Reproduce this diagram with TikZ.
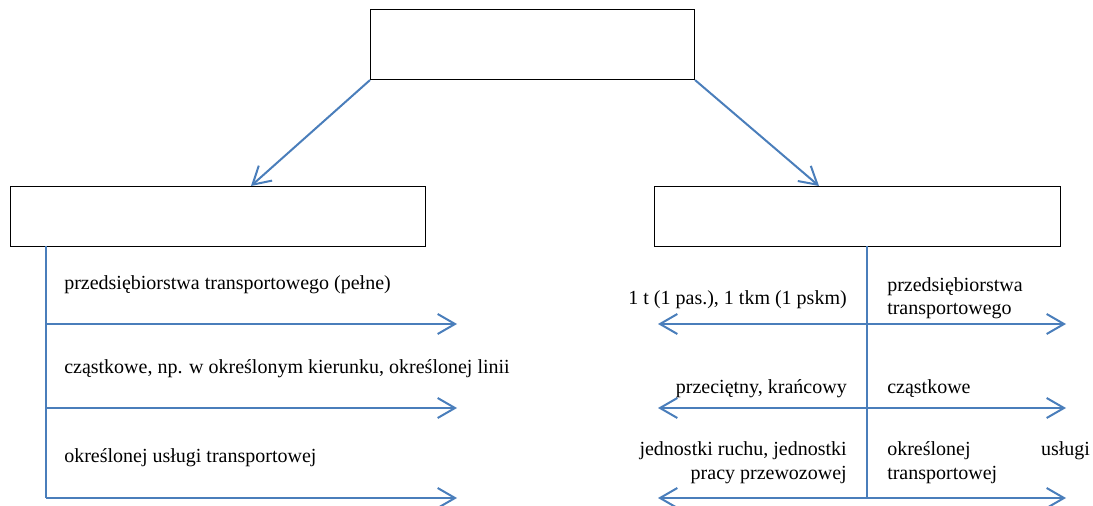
\documentclass[tikz,border=0pt]{standalone}
\usepackage{fontspec}
\setmainfont{Liberation Serif}
\usetikzlibrary{arrows.meta}
\definecolor{lineblue}{HTML}{4A7EBB}

\begin{document}
\begin{tikzpicture}[x=0.75pt,y=-0.75pt,
    every node/.style={font=\rmfamily\fontsize{15}{17.5}\selectfont,inner sep=0pt},
    box/.style={draw,line width=0.8pt},
    stem/.style={draw=lineblue,line width=1.5pt},
    link/.style={stem,-{Straight Barb[length=13pt,width=15pt]}},
    both/.style={stem,{Straight Barb[length=13pt,width=15pt]}-{Straight Barb[length=13pt,width=15pt]}}]
        \useasboundingbox (0,0) rectangle (1093,506);
        % Boxes
        \node[box,anchor=north west,minimum width=243pt,minimum height=52.5pt] (top) at (370,9) {};
        \node[box,anchor=north west,minimum width=311.25pt,minimum height=45pt] (lbox) at (10,186) {};
        \node[box,anchor=north west,minimum width=304.5pt,minimum height=45pt] (rbox) at (654,186) {};
        % Arrows from the top box
        \coordinate (ltip) at (251,186);
        \coordinate (rtip) at (819,186);
        \draw[link] (top.south west) -- (ltip);
        \draw[link] (top.south east) -- (rtip);
        % Left branch
        \coordinate (lstem) at (46,246);
        \foreach \y [count=\i] in {324,408,498} {
            \coordinate (la\i) at (46,\y);
            \coordinate (lb\i) at (457,\y);
        }
        \draw[stem] (lstem) -- (la3);
        \foreach \i in {1,2,3} \draw[link] (la\i) -- (lb\i);
        \node[anchor=base west] (l1) at (64,289) {przedsiębiorstwa transportowego (pełne)};
        \node[anchor=base west] (l2) at (64,373) {cząstkowe, np. w określonym kierunku, określonej linii};
        \node[anchor=base west] (l3) at (64,462) {określonej usługi transportowej};
        % Right branch
        \coordinate (rstem) at (867,246);
        \coordinate (rend) at (867,499);
        \foreach \y [count=\i] in {324,408,498} {
            \coordinate (ra\i) at (658,\y);
            \coordinate (rb\i) at (1066,\y);
        }
        \draw[stem] (rstem) -- (rend);
        \foreach \i in {1,2,3} \draw[both] (ra\i) -- (rb\i);
        \node[anchor=base east] (r1) at (847,304) {1 t (1 pas.), 1 tkm (1 pskm)};
        \node[anchor=base east] (r2) at (847,393) {przeciętny, krańcowy};
        \node[anchor=base east,align=right] (r3) at (847,479) {jednostki ruchu, jednostki\\pracy przewozowej};
        \node[anchor=base west,align=left] (s1) at (887,315) {przedsiębiorstwa\\transportowego};
        \node[anchor=base west] (s2) at (887,393) {cząstkowe};
        \node[anchor=base west,align=left] (s3) at (887,479) {\makebox[152pt][s]{określonej usługi}\\transportowej};
\end{tikzpicture}
\end{document}
